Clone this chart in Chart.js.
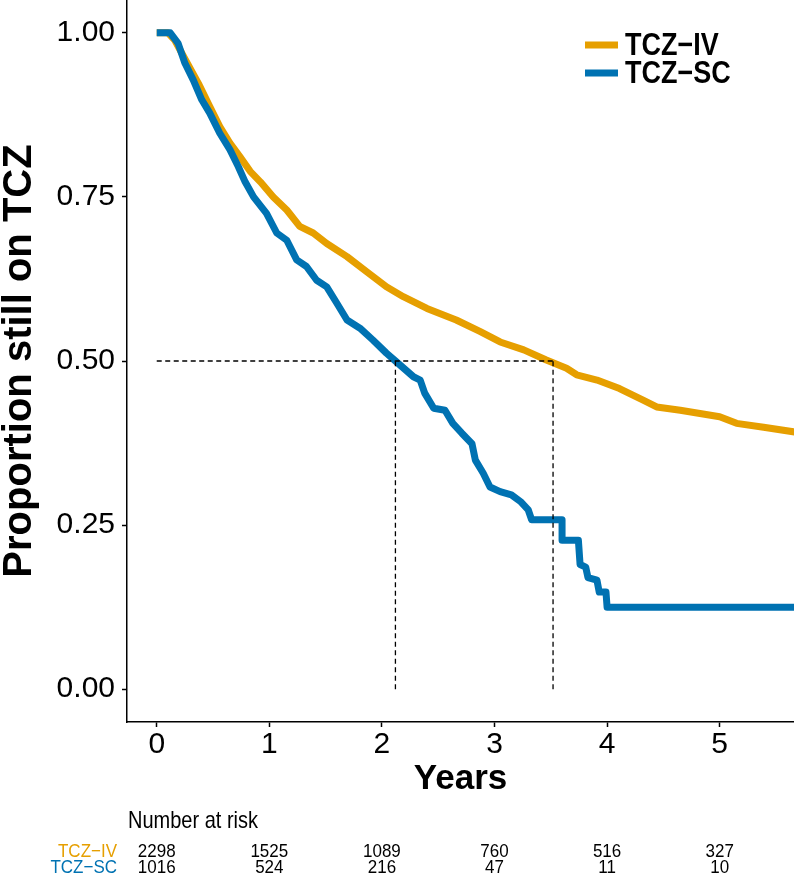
<!DOCTYPE html>
<html>
<head>
<meta charset="utf-8">
<title>Proportion still on TCZ</title>
<script src="https://cdn.jsdelivr.net/npm/chart.js@4.4.0/dist/chart.umd.min.js"></script>
<style>
  html, body { margin: 0; padding: 0; background: #fff; }
  #wrap { width: 794px; height: 876px; }
</style>
</head>
<body>
<div id="wrap"><canvas id="km" width="794" height="876"></canvas></div>
<script>
// Kaplan-Meier drug survival, TCZ-IV vs TCZ-SC, with number-at-risk table

const FONT = "'Liberation Sans', Arial, Helvetica, sans-serif";
const IV_COLOR = "#E69F00";
const SC_COLOR = "#0072B2";

const groupNames = ["TCZ\u2212IV", "TCZ\u2212SC"];

// curve (years, proportion)
const ivTimes = [0, 0.10, 0.16, 0.27, 0.37, 0.47, 0.56, 0.65, 0.74, 0.83, 0.92, 1.035, 1.155, 1.27, 1.39, 1.51, 1.69, 1.865, 2.04, 2.19, 2.40, 2.66, 2.87, 3.05, 3.26, 3.46, 3.64, 3.73, 3.91, 4.11, 4.32, 4.44, 4.65, 4.825, 5.00, 5.15, 5.39, 5.70];
const ivSurv  = [1.0, 1.0, 0.989, 0.954, 0.923, 0.888, 0.857, 0.832, 0.811, 0.789, 0.773, 0.750, 0.730, 0.705, 0.695, 0.679, 0.659, 0.636, 0.613, 0.598, 0.580, 0.5625, 0.545, 0.529, 0.517, 0.5015, 0.489, 0.479, 0.471, 0.458, 0.4405, 0.430, 0.425, 0.420, 0.415, 0.405, 0.399, 0.391];

const scTimes = [0, 0.12, 0.19, 0.25, 0.325, 0.40, 0.47, 0.56, 0.65, 0.725, 0.785, 0.86, 0.975, 1.066, 1.155, 1.243, 1.33, 1.42, 1.51, 1.60, 1.69, 1.805, 1.92, 2.04, 2.12, 2.28, 2.34, 2.38, 2.46, 2.56, 2.63, 2.71, 2.80, 2.83, 2.90, 2.96, 3.05, 3.15, 3.23, 3.30, 3.33, 3.60, 3.60, 3.745, 3.76, 3.81, 3.83, 3.91, 3.93, 3.99, 4.00, 5.70];
const scSurv  = [1.0, 1.0, 0.984, 0.954, 0.928, 0.898, 0.878, 0.847, 0.822, 0.796, 0.773, 0.750, 0.725, 0.695, 0.684, 0.654, 0.644, 0.623, 0.613, 0.588, 0.5625, 0.550, 0.532, 0.512, 0.500, 0.476, 0.471, 0.451, 0.428, 0.425, 0.405, 0.390, 0.374, 0.349, 0.329, 0.308, 0.301, 0.296, 0.286, 0.273, 0.258, 0.258, 0.227, 0.227, 0.190, 0.186, 0.170, 0.166, 0.148, 0.148, 0.125, 0.125];

// median lines
const medianLevel = 0.5;
const medianTimes = [2.12, 3.52];

const xTicks = [0, 1, 2, 3, 4, 5];
const yTicks = [0, 0.25, 0.5, 0.75, 1.0];

// number at risk
const riskTimes = [0, 1, 2, 3, 4, 5];
const riskIV = [2298, 1525, 1089, 760, 516, 327];
const riskSC = [1016, 524, 216, 47, 11, 10];

const toPoints = (xs, ys) => xs.map((x, i) => ({ x: x, y: ys[i] }));

const dashStyle = {
  borderColor: "#000",
  borderWidth: 1.3,
  borderDash: [5, 3.5],
  fill: false
};

const medianSets = [
  Object.assign({ label: "", data: [{ x: 0, y: medianLevel }, { x: Math.max(...medianTimes), y: medianLevel }] }, dashStyle)
].concat(medianTimes.map(t => Object.assign({ label: "", data: [{ x: t, y: 0 }, { x: t, y: medianLevel }] }, dashStyle)));

// text a bit taller than wide, like the original export
function tallText(c, str, x, y, sy) {
  c.save();
  c.translate(x, y);
  c.scale(1, sy);
  c.fillText(str, 0, 0);
  c.restore();
}

// legend + risk table drawn after the plot
const extras = {
  id: "extras",
  afterDraw(chart) {
    const c = chart.ctx;
    const xs = chart.scales.x;
    c.save();

    // legend
    const keys = [
      { name: groupNames[0], color: IV_COLOR, y: 45 },
      { name: groupNames[1], color: SC_COLOR, y: 73 }
    ];
    keys.forEach(k => {
      c.strokeStyle = k.color;
      c.lineWidth = 7;
      c.lineCap = "butt";
      c.beginPath();
      c.moveTo(585, k.y);
      c.lineTo(618, k.y);
      c.stroke();
      c.fillStyle = "#000";
      c.font = "bold 27px " + FONT;
      c.textAlign = "left";
      c.textBaseline = "middle";
      tallText(c, k.name, 625, k.y + 1, 1.18);
    });

    // number at risk
    c.fillStyle = "#000";
    c.font = "20px " + FONT;
    c.textAlign = "left";
    c.textBaseline = "middle";
    tallText(c, "Number at risk", 128, 821, 1.18);

    const rows = [
      { name: groupNames[0], color: IV_COLOR, vals: riskIV, y: 852 },
      { name: groupNames[1], color: SC_COLOR, vals: riskSC, y: 868 }
    ];
    rows.forEach(r => {
      c.font = "17px " + FONT;
      c.fillStyle = r.color;
      c.textAlign = "right";
      tallText(c, r.name, 117, r.y, 1.12);
      c.fillStyle = "#000";
      c.textAlign = "center";
      r.vals.forEach((v, i) => tallText(c, String(v), xs.getPixelForValue(riskTimes[i]), r.y, 1.12));
    });
    c.restore();
  }
};

new Chart(document.getElementById("km"), {
  type: "line",
  data: {
    datasets: medianSets.concat([
      { label: groupNames[1], data: toPoints(scTimes, scSurv), borderColor: SC_COLOR, borderWidth: 7 },
      { label: groupNames[0], data: toPoints(ivTimes, ivSurv), borderColor: IV_COLOR, borderWidth: 7 }
    ])
  },
  options: {
    responsive: false,
    animation: false,
    elements: {
      point: { radius: 0, hoverRadius: 0 },
      line: { tension: 0, borderJoinStyle: "round", borderCapStyle: "butt" }
    },
    layout: { padding: { top: 0, right: 0, bottom: 76, left: 0 } },
    plugins: {
      legend: { display: false },
      tooltip: { enabled: false }
    },
    scales: {
      x: {
        type: "linear",
        min: -0.264,
        max: 5.66,
        afterBuildTicks: s => { s.ticks = xTicks.map(v => ({ value: v })); },
        afterFit: s => { s.height = 78; s.paddingLeft = 0; s.paddingRight = 0; },
        grid: { drawOnChartArea: false, drawTicks: true, tickLength: 5, tickWidth: 1.5, tickColor: "#000" },
        border: { display: true, color: "#000", width: 1.5 },
        ticks: { color: "#000", padding: 1, maxRotation: 0, font: { family: FONT, size: 30, lineHeight: 1.1 } },
        title: {
          display: true, text: "Years", color: "#000",
          font: { family: FONT, size: 35, weight: "bold", lineHeight: 1.2 },
          padding: { top: 0, bottom: 0 }
        }
      },
      y: {
        type: "linear",
        min: -0.05,
        max: 1.05,
        afterBuildTicks: s => { s.ticks = yTicks.map(v => ({ value: v })); },
        afterFit: s => { s.width = 127; s.paddingTop = 0; s.paddingBottom = 0; },
        grid: { drawOnChartArea: false, drawTicks: true, tickLength: 5, tickWidth: 1.5, tickColor: "#000" },
        border: { display: true, color: "#000", width: 1.5 },
        ticks: { color: "#000", padding: 7, font: { family: FONT, size: 30 }, callback: v => v.toFixed(2) },
        title: {
          display: true, text: "Proportion still on TCZ", color: "#000",
          font: { family: FONT, size: 40, weight: "bold", lineHeight: 1 },
          padding: { top: 0, bottom: 0 }
        }
      }
    }
  },
  plugins: [extras]
});
</script>
</body>
</html>
